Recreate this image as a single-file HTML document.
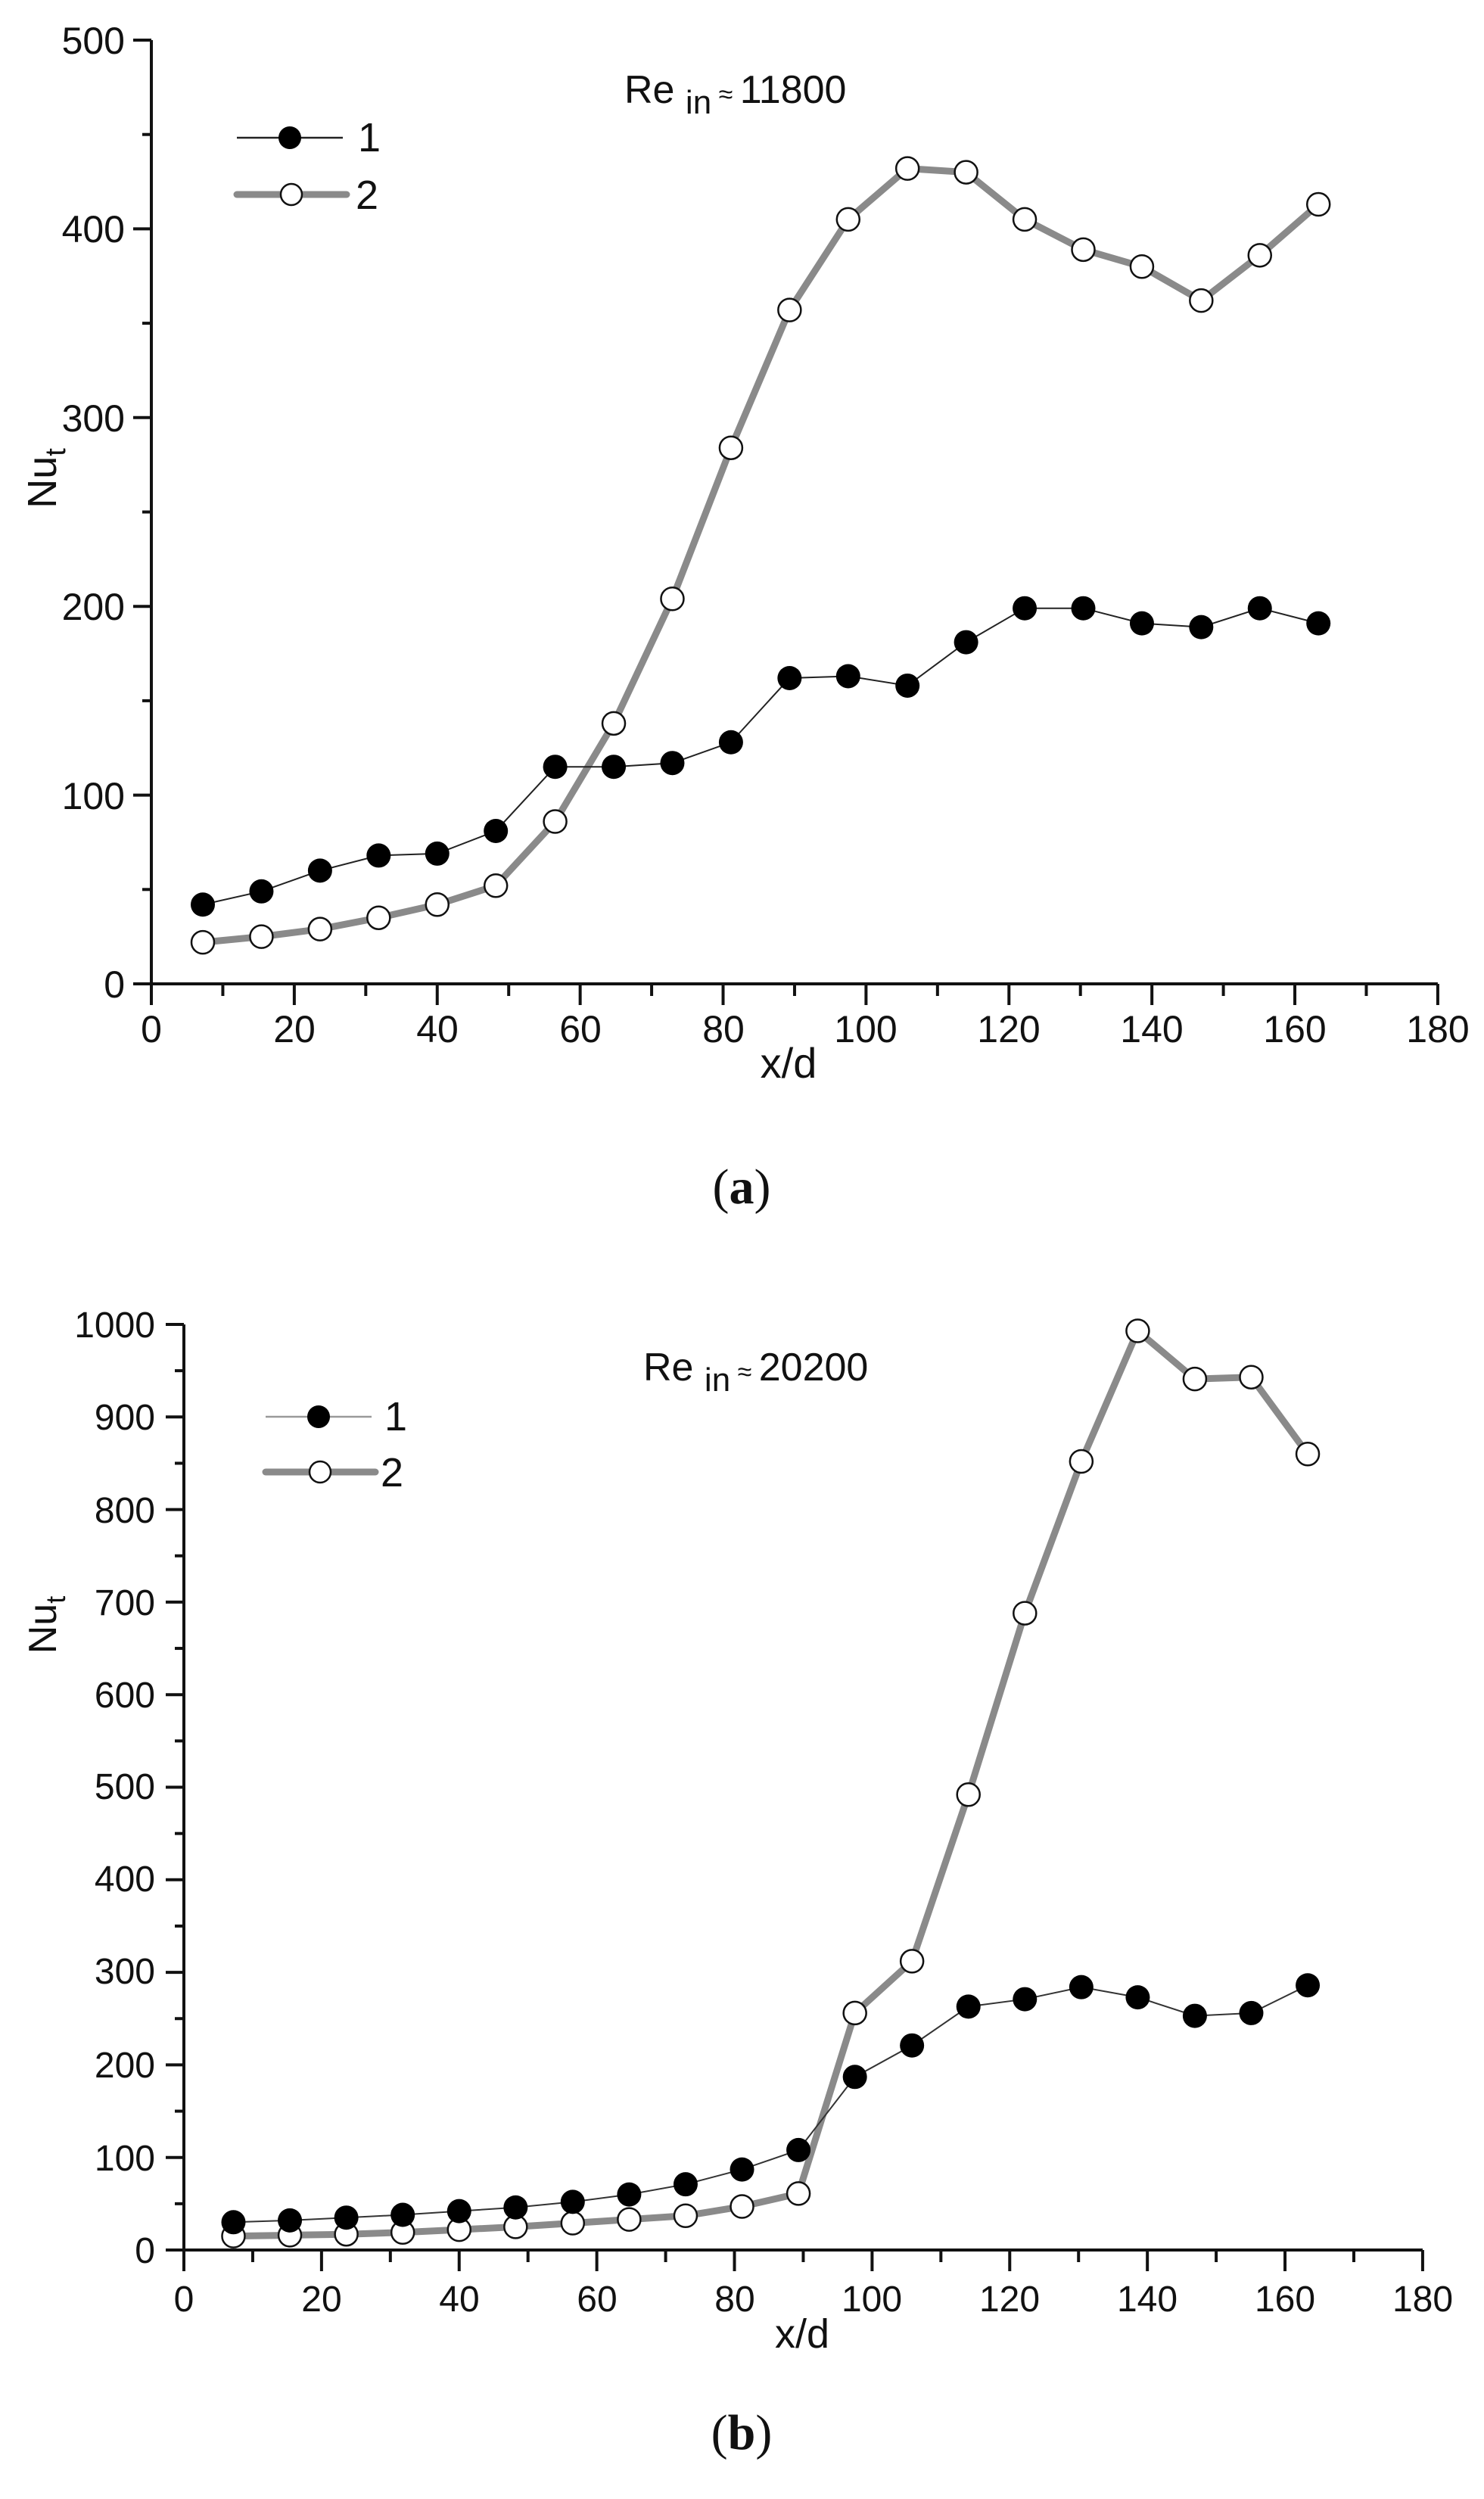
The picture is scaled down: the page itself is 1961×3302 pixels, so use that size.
<!DOCTYPE html>
<html><head><meta charset="utf-8"><style>
html,body{margin:0;padding:0;background:#fff;}
svg{display:block;}
text{font-family:"Liberation Sans",Arial,sans-serif;fill:#111;}
</style></head><body>
<svg id="s" width="1961" height="3302" viewBox="0 0 1961 3302" xmlns="http://www.w3.org/2000/svg">
<g id="g"></g>
<g font-size="50" text-anchor="end">
<text x="165" y="1318">0</text><text x="165" y="1069">100</text><text x="165" y="819">200</text>
<text x="165" y="570">300</text><text x="165" y="320">400</text><text x="165" y="71">500</text>
</g>
<g font-size="50" text-anchor="middle">
<text x="200" y="1377">0</text><text x="389" y="1377">20</text><text x="578" y="1377">40</text>
<text x="767" y="1377">60</text><text x="956" y="1377">80</text><text x="1144" y="1377">100</text>
<text x="1333" y="1377">120</text><text x="1522" y="1377">140</text><text x="1711" y="1377">160</text>
<text x="1900" y="1377">180</text>
<text x="1042" y="1424" font-size="56">x/d</text>
</g>
<text transform="translate(74,632) rotate(-90)" font-size="54" text-anchor="middle">Nu<tspan font-size="38" dy="12">t</tspan></text>
<text x="825" y="136" font-size="52">Re <tspan font-size="44" dy="14">in</tspan><tspan dy="-14" font-size="34"> ≈ </tspan>11800</text>
<text x="473" y="200" font-size="54">1</text>
<text x="470" y="276" font-size="54">2</text>
<text x="980" y="1590" font-size="66" text-anchor="middle" style="font-family:'Liberation Serif',serif">(<tspan font-weight="bold">a</tspan>)</text>

<g font-size="48" text-anchor="end">
<text x="205" y="2990">0</text><text x="205" y="2868">100</text><text x="205" y="2745">200</text>
<text x="205" y="2621">300</text><text x="205" y="2499">400</text><text x="205" y="2377">500</text>
<text x="205" y="2256">600</text><text x="205" y="2134">700</text><text x="205" y="2012">800</text>
<text x="205" y="1889">900</text><text x="205" y="1767">1000</text>
</g>
<g font-size="48" text-anchor="middle">
<text x="243" y="3054">0</text><text x="425" y="3054">20</text><text x="607" y="3054">40</text>
<text x="789" y="3054">60</text><text x="971" y="3054">80</text><text x="1152" y="3054">100</text>
<text x="1334" y="3054">120</text><text x="1516" y="3054">140</text><text x="1698" y="3054">160</text>
<text x="1880" y="3054">180</text>
<text x="1060" y="3102" font-size="54">x/d</text>
</g>
<text transform="translate(74,2147) rotate(-90)" font-size="52" text-anchor="middle">Nu<tspan font-size="36" dy="12">t</tspan></text>
<text x="850" y="1824" font-size="52">Re <tspan font-size="44" dy="14">in</tspan><tspan dy="-14" font-size="34"> ≈ </tspan>20200</text>
<text x="508" y="1890" font-size="54">1</text>
<text x="503" y="1964" font-size="54">2</text>
<text x="980" y="3236" font-size="66" text-anchor="middle" style="font-family:'Liberation Serif',serif">(<tspan font-weight="bold">b</tspan>)</text>
</svg>
<script>
var NS="http://www.w3.org/2000/svg",g=document.getElementById("g");
function el(t,a){var e=document.createElementNS(NS,t);for(var k in a)e.setAttribute(k,a[k]);g.appendChild(e);return e;}
var xs=[7.2,15.4,23.6,31.8,40,48.2,56.5,64.7,72.9,81.1,89.3,97.5,105.8,114,122.2,130.4,138.6,146.9,155.1,163.3];
function chart(o){
 var X=function(v){return o.x0+v*o.sx},Y=function(v){return o.y0-v*o.sy};
 el("line",{x1:o.x0,y1:o.y0,x2:o.x0+180*o.sx,y2:o.y0,stroke:"#111","stroke-width":4});
 el("line",{x1:o.x0,y1:o.y0+28,x2:o.x0,y2:Y(o.ymax),stroke:"#111","stroke-width":4});
 for(var i=0;i<=18;i++){var x=X(i*10);el("line",{x1:x,y1:o.y0,x2:x,y2:o.y0+(i%2?16:28),stroke:"#111","stroke-width":4});}
 for(var v=0;v<=o.ymax;v+=o.minor){var y=Y(v);var maj=Math.abs(v/o.major-Math.round(v/o.major))<1e-6;
  el("line",{x1:o.x0-(maj?24:12),y1:y,x2:o.x0,y2:y,stroke:"#111","stroke-width":4});}
 var p2=xs.map(function(x,i){return X(x)+","+Y(o.s2[i])}).join(" ");
 var p1=xs.map(function(x,i){return X(x)+","+Y(o.s1[i])}).join(" ");
 el("polyline",{points:p2,fill:"none",stroke:"#8a8a8a","stroke-width":9,"stroke-linejoin":"round"});
 el("polyline",{points:p1,fill:"none",stroke:o.c1,"stroke-width":2});
 xs.forEach(function(x,i){el("circle",{cx:X(x),cy:Y(o.s2[i]),r:15,fill:"#fff",stroke:"#111","stroke-width":2.5});});
 xs.forEach(function(x,i){el("circle",{cx:X(x),cy:Y(o.s1[i]),r:16,fill:"#000"});});
 el("line",{x1:o.lx,y1:o.ly1,x2:o.lx+140,y2:o.ly1,stroke:o.c1l,"stroke-width":2.5});
 el("circle",{cx:o.lx+70,cy:o.ly1,r:15,fill:"#000"});
 el("line",{x1:o.lx,y1:o.ly2,x2:o.lx+145,y2:o.ly2,stroke:"#8a8a8a","stroke-width":9,"stroke-linecap":"round"});
 el("circle",{cx:o.lx+72,cy:o.ly2,r:14,fill:"#fff",stroke:"#111","stroke-width":2.5});
}
chart({x0:200,sx:9.444,y0:1300,sy:2.494,ymax:500,major:100,minor:50,c1:"#222",c1l:"#222",lx:313,ly1:182,ly2:257,
 s1:[42,49,60,68,69,81,115,115,117,128,162,163,158,181,199,199,191,189,199,191],
 s2:[22,25,29,35,42,52,86,138,204,284,357,405,432,430,405,389,380,362,386,413]});
chart({x0:243,sx:9.094,y0:2973,sy:1.223,ymax:1000,major:100,minor:50,c1:"#333",c1l:"#999",lx:351,ly1:1872,ly2:1945,
 s1:[30,32,35,38,42,46,52,60,71,87,108,187,221,263,271,284,273,253,256,286],
 s2:[15,16,17,19,22,25,29,33,37,47,61,256,312,492,688,852,993,941,943,860]});
</script>
</body></html>
